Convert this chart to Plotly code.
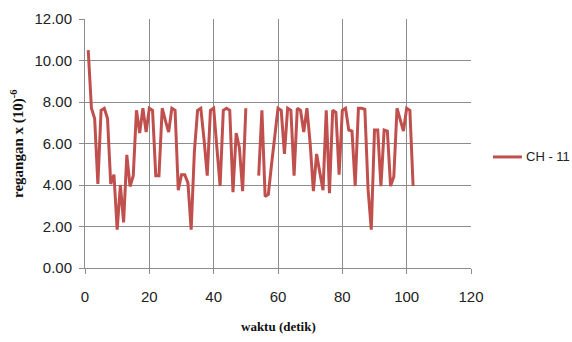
import plotly.graph_objects as go

waktu = list(range(1, 103))
regangan = [
    10.5, 7.7, 7.2, 4.05, 7.6, 7.7, 7.2, 4.05, 4.5, 1.85,
    4.0, 2.2, 5.45, 3.93, 4.45, 7.6, 6.5, 7.7, 6.55, 7.7,
    7.6, 4.45, 4.45, 7.7, 7.1, 6.55, 7.7, 7.6, 3.75, 4.5,
    4.5, 4.1, 1.85, 5.6, 7.6, 7.7, 6.2, 4.45, 7.6, 7.7,
    5.8, 3.95, 7.6, 7.7, 7.6, 3.65, 6.5, 5.8, 3.7, 7.7,
    None, None, None, 4.45, 7.6, 3.45, 3.55, 5.0, 6.4, 7.7,
    7.6, 5.5, 7.7, 7.6, 4.45, 7.7, 7.6, 6.55, 7.7, 6.0,
    3.7, 5.5, 4.6, 3.75, 7.6, 3.6, 7.6, 7.5, 4.5, 7.6,
    7.7, 6.65, 6.6, 3.95, 7.7, 7.7, 7.65, 3.8, 1.85, 6.65,
    6.65, 3.95, 6.65, 6.6, 3.95, 4.4, 7.7, 7.2, 6.6, 7.7,
    7.6, 3.95,
]
series_name = "CH - 11"
x_ticks = [0, 20, 40, 60, 80, 100, 120]
y_ticks = [0, 2, 4, 6, 8, 10, 12]

grid = "#8c8c8c"
red = "#C0504D"
sans = "Liberation Sans Narrow, Liberation Sans, Arial"
tickfont = dict(family=sans, size=15, color="#222")

fig = go.Figure()
fig.add_trace(go.Scatter(
    x=waktu, y=regangan, mode="lines", name=series_name,
    line=dict(color=red, width=3), connectgaps=False, showlegend=False,
))

fig.update_layout(
    width=572, height=342,
    margin=dict(l=85, r=101, t=19, b=74, autoexpand=False),
    paper_bgcolor="white", plot_bgcolor="white",
    showlegend=False,
    xaxis=dict(range=[0, 120], tickvals=x_ticks, ticktext=[str(v) for v in x_ticks],
               showgrid=True, gridcolor=grid, gridwidth=1,
               showline=True, linecolor=grid, linewidth=1, mirror=False,
               ticks="outside", ticklen=5, tickcolor=grid, tickfont=tickfont,
               zeroline=False, ticklabelstandoff=10, automargin=False),
    yaxis=dict(range=[0, 12], tickvals=y_ticks, ticktext=[f"{v:.2f}" for v in y_ticks],
               showgrid=True, gridcolor=grid, gridwidth=1,
               showline=True, linecolor=grid, linewidth=1,
               ticks="outside", ticklen=5, tickcolor=grid, tickfont=tickfont,
               zeroline=False, ticklabelstandoff=4, automargin=False),
    shapes=[
        dict(type="line", xref="paper", yref="paper", x0=1.057, x1=1.132, y0=0.446, y1=0.446,
             line=dict(color=red, width=3)),
    ],
    annotations=[
        dict(text=series_name, x=1.137, y=0.446, xref="paper", yref="paper",
             xanchor="left", yanchor="middle", showarrow=False,
             font=dict(family=sans, size=13, color="#222")),
        dict(text="<b>waktu (detik)</b>", x=0.5, y=-0.236, xref="paper", yref="paper",
             xanchor="center", yanchor="middle", showarrow=False,
             font=dict(family="Liberation Serif, Times New Roman", size=13, color="#111")),
        dict(text="<b>regangan x (10)<sup>-6</sup></b>", x=-0.175, y=0.5, xref="paper", yref="paper",
             xanchor="center", yanchor="middle", showarrow=False, textangle=-90,
             font=dict(family="Liberation Serif, Times New Roman", size=15, color="#111")),
    ],
)

fig.write_html("out.html")
